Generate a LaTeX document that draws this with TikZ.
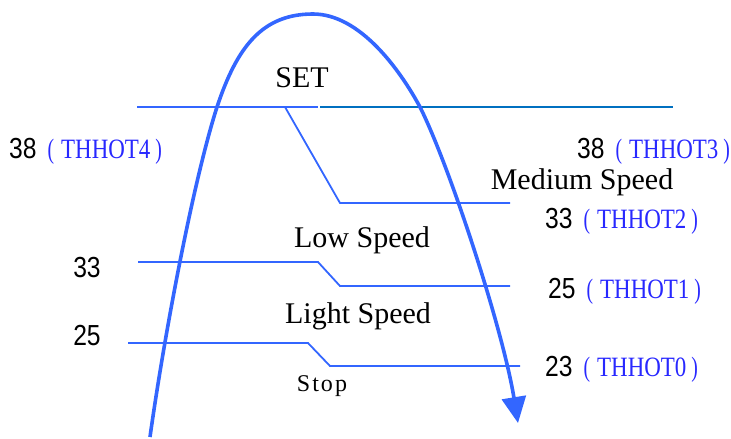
\documentclass[tikz,border=0pt]{standalone}
\usepackage{fontspec}
\setmainfont{Liberation Serif}
\newfontfamily\numfont{Liberation Sans}
\usetikzlibrary{arrows.meta}
\definecolor{lineblue}{RGB}{51,102,255}
\definecolor{darkblue}{RGB}{0,112,192}
\definecolor{txtblue}{RGB}{40,40,255}
\newcommand{\hotlabel}[2]{\scalebox{0.85}[1]{\numfont\fontsize{29}{33}\selectfont #1}\hspace{11pt}{\color{txtblue}\fontsize{28}{32}\selectfont\scalebox{0.7}[1]{(}\hspace{7pt}\scalebox{0.82}[1]{THHOT#2}\hspace{5pt}\scalebox{0.7}[1]{)}}}
\begin{document}
\begin{tikzpicture}[x=1pt,y=-1pt,
  thin line/.style={draw=lineblue,line width=1.8pt},
  lbl/.style={inner sep=0pt,font=\fontsize{30}{34}\selectfont},
  hot/.style={inner sep=0pt,anchor=west},
  num/.style={inner sep=0pt}]
\useasboundingbox (0,0) rectangle (731,439);
% level lines
\draw[thin line] (137,107) -- (318,107);
\draw[draw=darkblue,line width=1.8pt] (320,107) -- (673,107);
\draw[thin line] (285,107) -- (340,203) -- (510,203);
\draw[thin line] (138,262) -- (318,262) -- (340,286) -- (510,286);
\draw[thin line] (128,343) -- (308,343) -- (330,366) -- (520,366);
% curve
\coordinate (c0) at (150,437);
\coordinate (c1) at (217,107);
\coordinate (c2) at (313,14);
\coordinate (c3) at (420,107);
\coordinate (c4) at (518,423);
\draw[draw=lineblue,line width=3.6pt,-{Triangle[length=26pt,width=24pt]}]
  (c0) .. controls (164,337) and (193,182) .. (c1)
       .. controls (237,47) and (262,14) .. (c2)
       .. controls (360,14) and (400,70) .. (c3)
       .. controls (450,167) and (503,330) .. (c4);
% texts
\node[lbl] (set) at (302,78) {SET};
\node[lbl] (med) at (582,182) {Medium Speed};
\node[lbl] (low) at (362,240) {Low Speed};
\node[lbl] (light) at (358,316) {Light Speed};
\node[inner sep=0pt,font=\fontsize{24}{27}\selectfont] (stop) at (322,386) {S\kern2pt t\kern2pt o\kern2pt p};
\node[hot] (h4) at (9,151) {\hotlabel{38}{4}};
\node[hot] (h3) at (577,151) {\hotlabel{38}{3}};
\node[hot] (h2) at (545,221) {\hotlabel{33}{2}};
\node[hot] (h1) at (548,291) {\hotlabel{25}{1}};
\node[hot] (h0) at (545,369) {\hotlabel{23}{0}};
\node[num] (n33) at (87,268) {\scalebox{0.85}[1]{\numfont\fontsize{29}{33}\selectfont 33}};
\node[num] (n25) at (87,336) {\scalebox{0.85}[1]{\numfont\fontsize{29}{33}\selectfont 25}};
\end{tikzpicture}
\end{document}
